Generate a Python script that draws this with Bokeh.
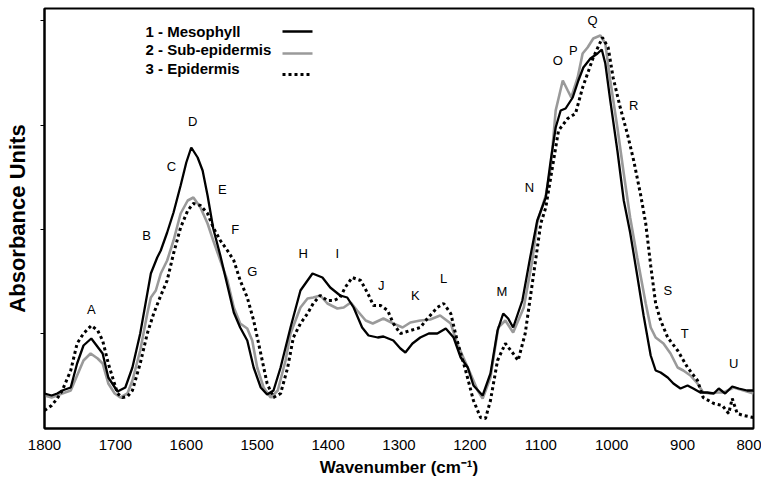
from bokeh.plotting import figure
from bokeh.models import Range1d, FixedTicker, Label, Arrow
from bokeh.core.properties import value
from bokeh.embed import file_html
from bokeh.resources import INLINE

# ---- data ----
meso_wn = [1800, 1790, 1782, 1775, 1763, 1754, 1745, 1734, 1718, 1710, 1697, 1686, 1676, 1665,
           1655, 1650, 1641, 1636, 1627, 1618, 1608, 1600, 1593, 1584, 1577, 1570, 1562, 1552,
           1542, 1533, 1524, 1514, 1505, 1495, 1486, 1477, 1467, 1453, 1439, 1422, 1408, 1397,
           1383, 1373, 1364, 1352, 1343, 1330, 1322, 1308, 1298, 1291, 1281, 1270, 1258, 1246,
           1234, 1223, 1213, 1203, 1195, 1182, 1171, 1161, 1153, 1146, 1139, 1126, 1115, 1105,
           1093, 1086, 1079, 1072, 1065, 1055, 1047, 1040, 1030, 1020, 1014, 1009, 1002, 992,
           983, 974, 964, 955, 945, 938, 931, 921, 913, 903, 893, 885, 875, 865, 856, 849, 840,
           830, 821, 809, 800]
meso_abs = [0.044, 0.042, 0.044, 0.047, 0.050, 0.074, 0.092, 0.099, 0.084, 0.060, 0.046, 0.050,
            0.070, 0.104, 0.144, 0.164, 0.180, 0.187, 0.205, 0.225, 0.252, 0.275, 0.290, 0.280,
            0.267, 0.242, 0.209, 0.182, 0.152, 0.125, 0.110, 0.097, 0.070, 0.050, 0.043, 0.047,
            0.070, 0.110, 0.147, 0.164, 0.160, 0.150, 0.142, 0.140, 0.130, 0.110, 0.102, 0.100,
            0.101, 0.097, 0.089, 0.085, 0.094, 0.100, 0.104, 0.104, 0.109, 0.100, 0.080, 0.070,
            0.052, 0.042, 0.064, 0.107, 0.124, 0.119, 0.110, 0.137, 0.180, 0.217, 0.240, 0.277,
            0.310, 0.327, 0.329, 0.340, 0.357, 0.370, 0.379, 0.384, 0.388, 0.374, 0.337, 0.287,
            0.237, 0.205, 0.162, 0.122, 0.082, 0.067, 0.065, 0.060, 0.054, 0.049, 0.052, 0.049,
            0.045, 0.045, 0.044, 0.049, 0.044, 0.051, 0.049, 0.047, 0.047]

sub_wn = [1800, 1790, 1775, 1763, 1754, 1745, 1735, 1725, 1718, 1710, 1701, 1693, 1683, 1676,
          1665, 1655, 1650, 1643, 1636, 1627, 1618, 1608, 1598, 1590, 1580, 1570, 1562, 1552,
          1542, 1533, 1524, 1514, 1507, 1500, 1491, 1481, 1471, 1460, 1453, 1439, 1429, 1421,
          1411, 1401, 1387, 1378, 1368, 1359, 1347, 1337, 1322, 1308, 1295, 1284, 1270, 1256,
          1242, 1227, 1218, 1203, 1189, 1182, 1171, 1160, 1150, 1139, 1124, 1112, 1105, 1093,
          1086, 1079, 1069, 1062, 1057, 1048, 1041, 1034, 1026, 1016, 1009, 1002, 992, 983, 974,
          964, 952, 945, 938, 927, 917, 907, 899, 889, 879, 871, 861, 851, 842, 828, 814, 800]
sub_abs = [0.042, 0.040, 0.044, 0.047, 0.062, 0.077, 0.084, 0.079, 0.074, 0.054, 0.044, 0.040,
           0.044, 0.057, 0.087, 0.124, 0.140, 0.147, 0.164, 0.177, 0.197, 0.224, 0.237, 0.240,
           0.230, 0.214, 0.197, 0.177, 0.157, 0.130, 0.114, 0.109, 0.097, 0.070, 0.050, 0.040,
           0.047, 0.077, 0.104, 0.130, 0.139, 0.140, 0.142, 0.134, 0.129, 0.130, 0.135, 0.127,
           0.117, 0.114, 0.119, 0.114, 0.110, 0.115, 0.117, 0.118, 0.122, 0.114, 0.094, 0.070,
           0.047, 0.039, 0.060, 0.110, 0.117, 0.105, 0.130, 0.177, 0.215, 0.242, 0.270, 0.327,
           0.357, 0.347, 0.340, 0.360, 0.384, 0.390, 0.399, 0.402, 0.394, 0.357, 0.310, 0.264,
           0.220, 0.180, 0.134, 0.110, 0.100, 0.094, 0.084, 0.070, 0.067, 0.062, 0.054, 0.045,
           0.044, 0.045, 0.045, 0.050, 0.047, 0.044]

epi_wn = [1800, 1790, 1782, 1775, 1763, 1754, 1745, 1734, 1725, 1718, 1710, 1697, 1690, 1683,
          1676, 1665, 1655, 1646, 1636, 1627, 1618, 1608, 1598, 1590, 1580, 1570, 1562, 1552,
          1542, 1533, 1524, 1514, 1505, 1495, 1486, 1477, 1467, 1457, 1449, 1439, 1429, 1421,
          1411, 1401, 1392, 1383, 1376, 1366, 1354, 1344, 1336, 1326, 1316, 1308, 1298, 1284,
          1270, 1260, 1246, 1237, 1227, 1218, 1206, 1195, 1185, 1178, 1171, 1161, 1150, 1139,
          1132, 1122, 1112, 1100, 1093, 1082, 1075, 1062, 1051, 1041, 1034, 1026, 1013, 1005,
          998, 988, 978, 969, 959, 952, 945, 938, 931, 921, 907, 893, 879, 871, 856, 844, 835,
          830, 823, 814, 800]
epi_abs = [0.027, 0.032, 0.039, 0.047, 0.067, 0.094, 0.104, 0.112, 0.107, 0.097, 0.074, 0.044,
           0.040, 0.041, 0.047, 0.074, 0.104, 0.124, 0.142, 0.157, 0.184, 0.210, 0.227, 0.234,
           0.232, 0.224, 0.210, 0.197, 0.187, 0.177, 0.157, 0.140, 0.117, 0.084, 0.054, 0.040,
           0.044, 0.070, 0.100, 0.114, 0.124, 0.134, 0.142, 0.137, 0.137, 0.140, 0.150, 0.160,
           0.157, 0.144, 0.132, 0.132, 0.127, 0.114, 0.104, 0.107, 0.110, 0.119, 0.130, 0.134,
           0.124, 0.097, 0.067, 0.037, 0.020, 0.019, 0.037, 0.077, 0.094, 0.084, 0.077, 0.104,
           0.154, 0.214, 0.230, 0.277, 0.307, 0.319, 0.324, 0.350, 0.364, 0.380, 0.400, 0.390,
           0.360, 0.330, 0.304, 0.277, 0.242, 0.214, 0.172, 0.134, 0.117, 0.100, 0.087, 0.070,
           0.057, 0.040, 0.034, 0.032, 0.024, 0.039, 0.024, 0.022, 0.020]

band_letters = ["A", "B", "C", "D", "E", "F", "G", "H", "I", "J", "K", "L", "M", "N", "O", "P",
                "Q", "R", "S", "T", "U"]
band_wn = [1734, 1656, 1621, 1591, 1549, 1531, 1507, 1435, 1387, 1325, 1277, 1237, 1155, 1116,
           1076, 1054, 1027, 969, 921, 897, 828]
band_abs = [0.128, 0.202, 0.271, 0.316, 0.248, 0.208, 0.166, 0.184, 0.184, 0.152, 0.142, 0.159,
            0.146, 0.250, 0.377, 0.387, 0.417, 0.332, 0.147, 0.104, 0.074]

series_names = ["1 - Mesophyll", "2 - Sub-epidermis", "3 - Epidermis"]
x_ticks = [1800, 1700, 1600, 1500, 1400, 1300, 1200, 1100, 1000, 900, 800]
y_ticks = [0.104, 0.208, 0.312, 0.417]

FONT = "Liberation Sans"

p = figure(width=761, height=482, output_backend="svg", toolbar_location=None,
           x_range=Range1d(1800, 800), y_range=Range1d(0.009, 0.429),
           min_border_left=44, min_border_right=8, min_border_top=8, min_border_bottom=54)
p.xgrid.visible = False
p.ygrid.visible = False
p.outline_line_color = "black"
p.outline_line_width = 2
p.background_fill_color = "white"
p.border_fill_color = "white"

p.xaxis.ticker = FixedTicker(ticks=x_ticks)
p.yaxis.ticker = FixedTicker(ticks=y_ticks)
p.yaxis.major_label_overrides = {t: "" for t in y_ticks}
for ax in (p.xaxis, p.yaxis):
    ax.axis_line_width = 2
    ax.axis_line_color = "black"
    ax.major_tick_line_color = "black"
    ax.major_tick_line_width = 1
    ax.minor_tick_line_color = None
    ax.major_label_text_font = FONT
    ax.major_label_text_color = "black"
    ax.axis_label_text_font = FONT
    ax.axis_label_text_font_style = "bold"
    ax.axis_label_text_color = "black"
p.xaxis.major_tick_in = 0
p.xaxis.major_tick_out = 0
p.xaxis.major_label_text_font_size = "15px"
p.xaxis.major_label_standoff = 11
p.xaxis.axis_label = "Wavenumber (cm\u207b\u00b9)"
p.xaxis.axis_label_text_font_size = "17px"
p.xaxis.axis_label_standoff = 5
p.yaxis.major_tick_in = 0
p.yaxis.major_tick_out = 4
p.yaxis.major_label_standoff = 0
p.yaxis.axis_label = "Absorbance Units"
p.yaxis.axis_label_text_font_size = "22px"
p.yaxis.axis_label_standoff = 11

p.line(sub_wn, sub_abs, line_color="#9a9a9a", line_width=2.6)
p.line(meso_wn, meso_abs, line_color="black", line_width=2.3)
p.line(epi_wn, epi_abs, line_color="black", line_width=3, line_dash="3 3")

p.text(x=band_wn, y=band_abs, text=band_letters, text_font=value(FONT),
       text_font_size="13px", text_align="center", text_baseline="middle",
       text_color="black")

# legend (text left, sample line right)
leg_text_y = [397, 379, 360]
leg_line_y = [397, 375, 354]
styles = [dict(line_color="black", line_width=2.3),
          dict(line_color="#9a9a9a", line_width=2.6),
          dict(line_color="black", line_width=3, line_dash="3 3")]
for name, ty, ly, st in zip(series_names, leg_text_y, leg_line_y, styles):
    p.add_layout(Label(x=101, y=ty, x_units="screen", y_units="screen", text=name,
                       text_font=FONT, text_font_style="bold", text_font_size="15px",
                       text_baseline="middle", text_align="left", text_color="black"))
    p.add_layout(Arrow(end=None, x_start=238, y_start=ly, x_end=268, y_end=ly,
                       start_units="screen", end_units="screen", **st))

open("out.html", "w").write(file_html(p, INLINE))
